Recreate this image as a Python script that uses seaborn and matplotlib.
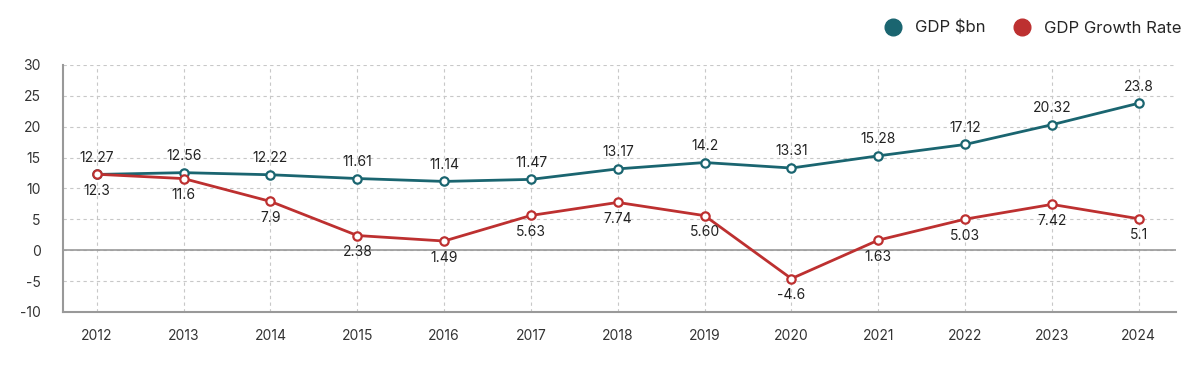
import matplotlib.pyplot as plt
import seaborn as sns
import pandas as pd

sns.set_style("white")
plt.rcParams['font.family'] = ['Inter', 'DejaVu Sans']
plt.rcParams['axes.unicode_minus'] = False

# Data
years = ['2012', '2013', '2014', '2015', '2016', '2017', '2018',
         '2019', '2020', '2021', '2022', '2023', '2024']
gdp_bn = [12.27, 12.56, 12.22, 11.61, 11.14, 11.47, 13.17,
          14.2, 13.31, 15.28, 17.12, 20.32, 23.8]
gdp_growth = [12.3, 11.6, 7.9, 2.38, 1.49, 5.63, 7.74,
              5.60, -4.6, 1.63, 5.03, 7.42, 5.1]
gdp_labels = ['12.27', '12.56', '12.22', '11.61', '11.14', '11.47', '13.17',
              '14.2', '13.31', '15.28', '17.12', '20.32', '23.8']
growth_labels = ['12.3', '11.6', '7.9', '2.38', '1.49', '5.63', '7.74',
                 '5.60', '-4.6', '1.63', '5.03', '7.42', '5.1']

teal = '#1a6570'
red = '#bd3030'

df = pd.DataFrame({'Year': years, 'GDP $bn': gdp_bn, 'GDP Growth Rate': gdp_growth})
df_long = df.melt(id_vars='Year', var_name='Series', value_name='Value')

fig = plt.figure(figsize=(12, 3.69), dpi=100)
ax = fig.add_axes([0.0525, 0.1545, 0.9275, 0.6695])

sns.lineplot(data=df_long, x='Year', y='Value', hue='Series',
             palette={'GDP $bn': teal, 'GDP Growth Rate': red},
             marker='o', markersize=6, markerfacecolor='white',
             markeredgewidth=1.6, linewidth=2, sort=False, ax=ax, legend=False)
# colour the marker edges per series
for line, c in zip(ax.lines, [teal, red]):
    line.set_markeredgecolor(c)

# Value labels
for i, (v, t) in enumerate(zip(gdp_bn, gdp_labels)):
    ax.annotate(t, (i, v), xytext=(0, 7), textcoords='offset points',
                ha='center', va='bottom', fontsize=10, color='#222222')
for i, (v, t) in enumerate(zip(gdp_growth, growth_labels)):
    ax.annotate(t, (i, v), xytext=(0, -7), textcoords='offset points',
                ha='center', va='top', fontsize=10, color='#222222')

ax.set_ylim(-10, 30)
ax.set_yticks(range(-10, 31, 5))
ax.set_xlim(-0.39, 12.43)
ax.set_xlabel(None)
ax.set_ylabel(None)

ax.grid(True, linestyle=(0, (3, 3)), color='#c8c8c8', linewidth=0.8)
ax.axhline(0, color='#999999', linewidth=1.2, zorder=1)
for side in ['top', 'right']:
    ax.spines[side].set_visible(False)
for side in ['left', 'bottom']:
    ax.spines[side].set_color('#999999')
    ax.spines[side].set_linewidth(1.5)
ax.tick_params(axis='both', length=0, labelsize=10, colors='#333333')
ax.tick_params(axis='x', pad=12)
ax.tick_params(axis='y', pad=16)

# Legend
handles = [plt.Line2D([], [], marker='o', linestyle='none', markersize=12,
                      color=teal, label='GDP $bn'),
           plt.Line2D([], [], marker='o', linestyle='none', markersize=12,
                      color=red, label='GDP Growth Rate')]
fig.legend(handles=handles, loc='upper right', bbox_to_anchor=(0.997, 0.985),
           ncol=2, frameon=False, fontsize=12, handletextpad=0.3,
           columnspacing=1.2)

plt.savefig('out.png', dpi=100)
